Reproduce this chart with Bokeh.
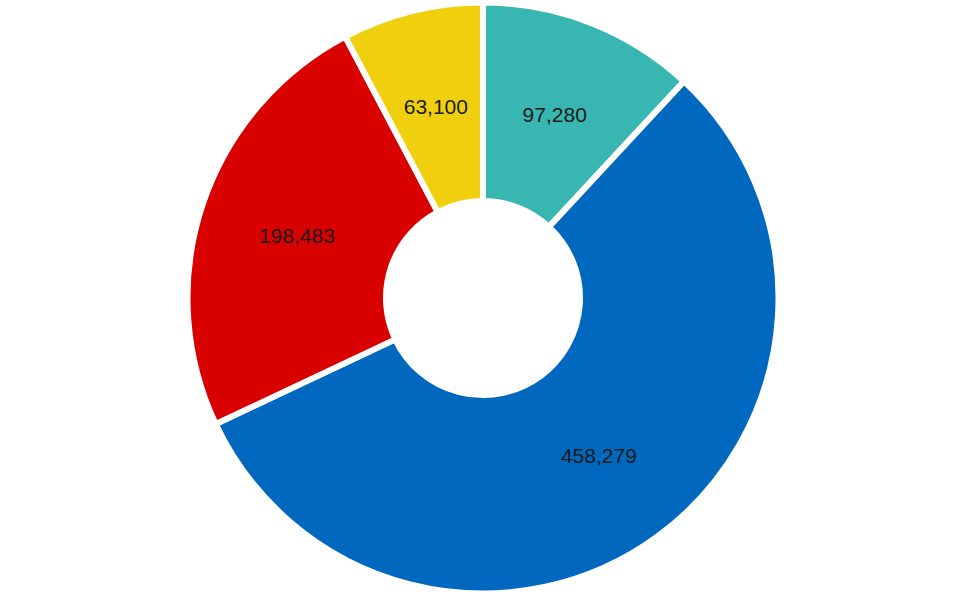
import numpy as np
from bokeh.plotting import figure
from bokeh.models import ColumnDataSource
from bokeh.core.properties import value
from bokeh.embed import file_html
from bokeh.resources import INLINE

labels = ["97,280", "458,279", "198,483", "63,100"]
values = [97280, 458279, 198483, 63100]
colors = ["#37B6B2", "#0069BF", "#D90000", "#F0D00E"]

W, H = 966, 598
cx, cy = 482.5, 300.5
r_out, r_in = 295.5, 97

vals = np.array(values, dtype=float)
frac = vals / vals.sum()
cum = np.concatenate([[0], np.cumsum(frac)])
# clockwise from top
start = np.pi / 2 - cum[:-1] * 2 * np.pi
end = np.pi / 2 - cum[1:] * 2 * np.pi
mid = (start + end) / 2
r_lab = (r_out + r_in) / 2

src = ColumnDataSource(dict(start=end, end=start, color=colors,
                            lx=cx + r_lab * np.cos(mid), ly=cy + r_lab * np.sin(mid),
                            label=labels))

p = figure(width=W, height=H, x_range=(0, W), y_range=(0, H),
           output_backend="svg", toolbar_location=None, min_border=0)
p.axis.visible = False
p.grid.visible = False
p.outline_line_color = None
p.background_fill_color = "white"

p.annular_wedge(x=cx, y=cy, inner_radius=r_in, outer_radius=r_out,
                start_angle="start", end_angle="end", fill_color="color",
                line_color="white", line_width=6, source=src)
p.text(x="lx", y="ly", text="label", source=src, text_align="center",
       text_baseline="middle", text_font=value("Liberation Sans"),
       text_font_size="21px", text_color="#1a1a1a")

open("out.html", "w").write(file_html(p, INLINE))
